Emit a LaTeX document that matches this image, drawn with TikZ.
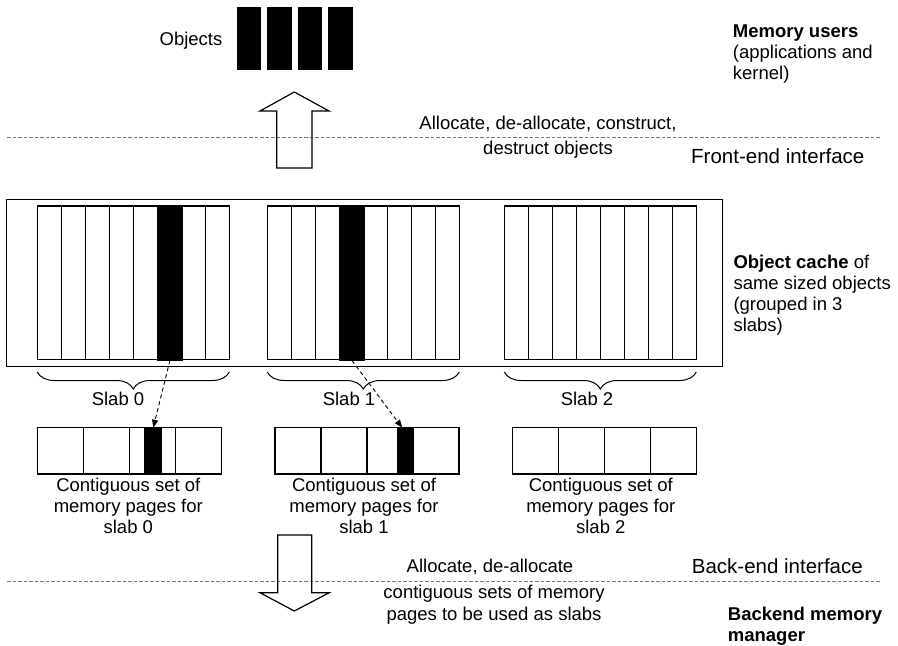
\documentclass[tikz,border=0pt]{standalone}
\usepackage{fontspec}
\setmainfont{Liberation Sans}
\usetikzlibrary{arrows.meta,decorations.pathreplacing}
\begin{document}
\begin{tikzpicture}[x=1pt,y=-1pt,
  txt/.style={inner sep=0pt, font=\fontsize{18.5}{21}\selectfont},
  big/.style={inner sep=0pt, font=\fontsize{20.5}{24}\selectfont},
  box/.style={draw=black, line width=1.2pt},
  cell/.style={draw=black, fill=black, line width=1.2pt, inner sep=0pt, anchor=north west},
  iface/.style={draw=black!55, line width=0.9pt, dash pattern=on 3.5pt off 2pt},
  link/.style={draw=black, line width=0.9pt, dash pattern=on 4pt off 3pt, -{Triangle[length=8pt,width=6pt]}},
  slabbrace/.style={decorate, decoration={brace, mirror, amplitude=17pt}, line width=1pt},
  fatarrow/.style={draw=black, line width=1.2pt, line join=miter}
]
\useasboundingbox (0,0) rectangle (898,646);

% memory users: four allocated objects
\foreach \i/\x in {1/236.7,2/267.2,3/297.7,4/328.2}
  \node[cell, minimum width=23.5pt, minimum height=62pt] (user\i) at (\x,7) {};
\node[txt, anchor=base] (objlabel) at (191,45) {Objects};
\node[txt, anchor=north west, align=left] (users) at (732.7,24.75)
  {\textbf{Memory users}\\(applications and\\kernel)};

% front-end interface
\draw[iface] (7,137) -- (881,137);
\draw[fatarrow] (276.7,168) -- (276.7,111) -- (260,111) -- (294.3,92) -- (329,111) -- (312,111) -- (312,168) -- cycle;
\node[txt, anchor=north, align=center, font=\fontsize{18.5}{25}\selectfont] (fronttext) at (548,116.25)
  {Allocate, de-allocate, construct,\\destruct objects};
\node[big, anchor=base west] (frontlabel) at (691,163) {Front-end interface};

% object cache with three slabs of eight objects
\draw[line width=1pt] (6.7,199) rectangle (722.7,366.7);
\foreach \x in {37.3,267.3,504.3} {
  \draw[box] (\x,206) rectangle ++(192,153.3);
  \foreach \k in {1,...,7} \draw[box] (\x+24*\k,206) -- ++(0,153.3);
}
\node[cell, minimum width=24pt, minimum height=153.3pt] (obj0) at (157.3,206) {};
\node[cell, minimum width=24pt, minimum height=153.3pt] (obj1) at (339.3,206) {};
\node[txt, anchor=north west, align=left] (cachelabel) at (733.3,254.75)
  {\textbf{Object cache} of\\same sized objects\\(grouped in 3\\slabs)};

% slab braces and labels
\draw[slabbrace] (37.3,372) -- (229.3,372);
\draw[slabbrace] (267.3,372) -- (459.3,372);
\draw[slabbrace] (504.3,372) -- (696.3,372);
\node[txt, anchor=base] (slab0) at (118,405) {Slab 0};
\node[txt, anchor=base] (slab1) at (349,405) {Slab 1};
\node[txt, anchor=base] (slab2) at (587,405) {Slab 2};

% contiguous memory pages backing each slab
\foreach \x in {37.3,275,512.3} {
  \draw[box] (\x,427.7) rectangle ++(184,46.3);
  \foreach \k in {1,2,3} \draw[box] (\x+46*\k,427.7) -- ++(0,46.3);
}
\node[cell, minimum width=16.7pt, minimum height=46.3pt] (page0obj) at (144.3,427.7) {};
\node[cell, minimum width=15.7pt, minimum height=46.3pt] (page1obj) at (397.3,427.7) {};
\node[txt, anchor=north, align=center] (pages0) at (128.3,478.2)
  {Contiguous set of\\memory pages for\\slab 0};
\node[txt, anchor=north, align=center] (pages1) at (364,478.2)
  {Contiguous set of\\memory pages for\\slab 1};
\node[txt, anchor=north, align=center] (pages2) at (600.8,478.2)
  {Contiguous set of\\memory pages for\\slab 2};

% objects located in their pages
\draw[link] (obj0.south) -- (page0obj.north);
\draw[link] (obj1.south) -- ([xshift=-3.5pt]page1obj.north);

% back-end interface
\draw[iface] (7,581.7) -- (881,581.7);
\draw[fatarrow] (277.7,535) -- (311.7,535) -- (311.7,592.7) -- (329.3,592.7) -- (294.3,611) -- (260,592.7) -- (277.7,592.7) -- cycle;
\node[txt, anchor=base] (backtop) at (490,572.7) {Allocate, de-allocate};
\node[txt, anchor=north, align=center, font=\fontsize{18.5}{22}\selectfont] (backtext) at (494,584.5)
  {contiguous sets of memory\\pages to be used as slabs};
\node[big, anchor=base west] (backlabel) at (691.7,573.3) {Back-end interface};
\node[txt, anchor=north west, align=left, font=\fontsize{18.5}{21}\selectfont\bfseries] (backend) at (727.7,607.25)
  {Backend memory\\manager};
\end{tikzpicture}
\end{document}
